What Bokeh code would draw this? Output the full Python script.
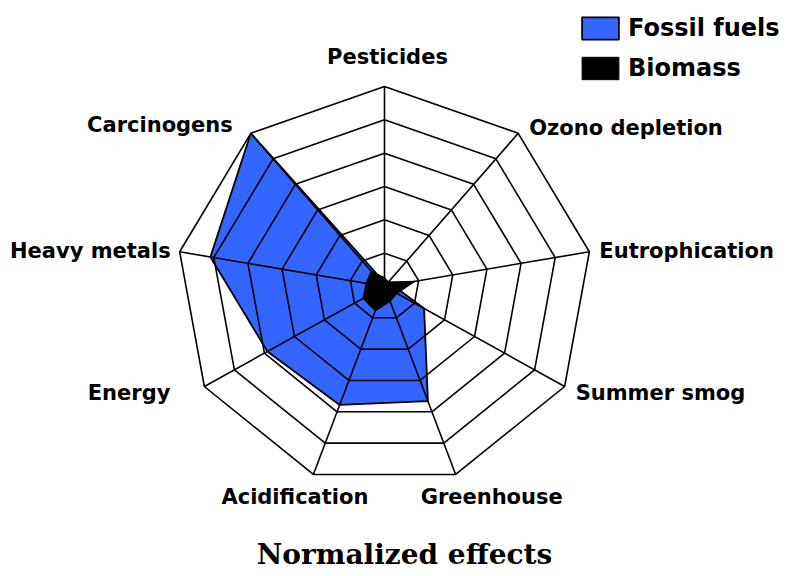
import numpy as np
from bokeh.plotting import figure
from bokeh.models import Range1d, Legend, LegendItem, Label
from bokeh.core.properties import value
from bokeh.embed import file_html
from bokeh.resources import INLINE

# ---- data ----
categories = ["Pesticides", "Ozono depletion", "Eutrophication", "Summer smog",
              "Greenhouse", "Acidification", "Energy", "Heavy metals", "Carcinogens"]
fossil_fuels = [0.02, 0.02, 0.04, 0.22, 0.61, 0.63, 0.65, 0.85, 1.00]
biomass = [0.045, 0.03, 0.15, 0.07, 0.08, 0.13, 0.12, 0.09, 0.10]
ring_levels = [1/6, 2/6, 3/6, 4/6, 5/6, 1.0]

# ---- layout / style ----
W, H = 800, 576
CX, CY = 384, 286      # centre of the radar in frame pixels
SX, SY = 208, 200      # pixels per unit radius
label_align = ["center", "left", "left", "left", "left", "right", "right", "right", "right"]
label_dx = [3, 11, 10, 11, -35, 55, -34, -9, -18]
label_dy = [-30, -5, -1, 6, 23, 23, 6, -1, -8]

n = len(categories)
ang = np.deg2rad(90 - 360.0 / n * np.arange(n))
cs, sn = np.cos(ang), np.sin(ang)

p = figure(width=W, height=H, output_backend="svg", toolbar_location=None,
           x_range=Range1d(-CX / SX, (W - CX) / SX),
           y_range=Range1d(-(H - CY) / SY, CY / SY),
           x_axis_location=None, y_axis_location=None,
           min_border=0, outline_line_color=None)
p.grid.visible = False
p.background_fill_color = "white"

def closed(vals):
    v = np.asarray(vals)
    x = list(v * cs) + [v[0] * cs[0]]
    y = list(v * sn) + [v[0] * sn[0]]
    return x, y

fx, fy = closed(fossil_fuels)
r_ff = p.patch(fx, fy, fill_color="#3366FF", line_color="black", line_width=1.8)
bx, by = closed(biomass)
r_bm = p.patch(bx, by, fill_color="black", line_color="black", line_width=1.0)

# grid rings and spokes
ring_xs, ring_ys = [], []
for lv in ring_levels:
    x, y = closed([lv] * n)
    ring_xs.append(x)
    ring_ys.append(y)
p.multi_line(ring_xs, ring_ys, line_color="black", line_width=1.6)
p.segment(x0=[0] * n, y0=[0] * n, x1=list(cs), y1=list(sn), line_color="black", line_width=1.6)

# category labels
for i, cat in enumerate(categories):
    lx = cs[i] + label_dx[i] / SX
    ly = sn[i] - label_dy[i] / SY
    p.text(x=[lx], y=[ly], text=[cat], text_align=label_align[i], text_baseline="middle",
           text_font=value("DejaVu Sans"), text_font_style="bold",
           text_font_size="21px", text_color="black")

legend = Legend(items=[LegendItem(label="Fossil fuels", renderers=[r_ff]),
                       LegendItem(label="Biomass", renderers=[r_bm])],
                location=(577, 494), orientation="vertical",
                glyph_width=46, glyph_height=28, spacing=12, label_standoff=5,
                padding=0, margin=0, border_line_color=None, background_fill_alpha=0,
                label_text_font="DejaVu Sans", label_text_font_style="bold",
                label_text_font_size="24px", label_text_color="black")
p.add_layout(legend)

title = Label(x=404, y=22, x_units="screen", y_units="screen", text="Normalized effects",
              text_align="center", text_baseline="middle",
              text_font="DejaVu Serif", text_font_style="bold", text_font_size="28px",
              text_color="black")
p.add_layout(title)

open("out.html", "w").write(file_html(p, INLINE))
